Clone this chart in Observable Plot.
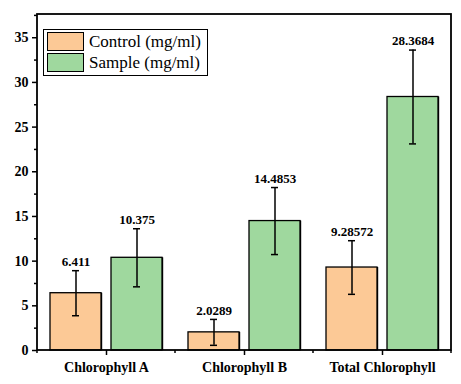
<!DOCTYPE html>
<html>
<head>
<meta charset="utf-8">
<script src="https://cdn.jsdelivr.net/npm/d3@7"></script>
<script src="https://cdn.jsdelivr.net/npm/@observablehq/plot@0.6"></script>
<style>
  html, body { margin: 0; padding: 0; background: white; }
  #wrap { position: relative; width: 461px; height: 384px; }
  .lg {
    position: absolute; left: 43px; top: 29px; width: 160px; height: 44px;
    border: 1.5px solid black; background: white; font-family: "Liberation Serif", serif;
    font-size: 17px; padding: 1px 0 0 3px; box-sizing: content-box;
  }
  .item { display: flex; align-items: center; height: 21px; }
  .sw { width: 37px; height: 19px; border: 1px solid black; margin-right: 5px; box-sizing: border-box; }
</style>
</head>
<body>
<div id="wrap"></div>
<script>
const groups = ["Chlorophyll A", "Chlorophyll B", "Total Chlorophyll"];
const series = ["Control (mg/ml)", "Sample (mg/ml)"];
const colors = ["#FCC996", "#9FD89E"];
const controlValues = [6.411, 2.0289, 9.28572];
const sampleValues = [10.375, 14.4853, 28.3684];
const controlErrors = [2.52, 1.45, 3.0];
const sampleErrors = [3.25, 3.75, 5.25];
const controlLabels = ["6.411", "2.0289", "9.28572"];
const sampleLabels = ["10.375", "14.4853", "28.3684"];
const yTicks = [0, 5, 10, 15, 20, 25, 30, 35];
const yMinorTicks = [2.5, 7.5, 12.5, 17.5, 22.5, 27.5, 32.5, 37.5];

const data = [];
groups.forEach((g, i) => {
  data.push({group: g, series: series[0], value: controlValues[i], err: controlErrors[i], label: controlLabels[i]});
  data.push({group: g, series: series[1], value: sampleValues[i], err: sampleErrors[i], label: sampleLabels[i]});
});

const W = 461, H = 384, ML = 37, MR = 10, MT = 14, MB = 34;
const font = "Liberation Serif";

const plot = Plot.plot({
  width: W, height: H,
  marginLeft: ML, marginRight: MR, marginTop: MT, marginBottom: MB,
  style: {fontFamily: font, background: "white", color: "black"},
  fx: {domain: groups, padding: 0, label: null, axis: null},
  x: {domain: series, paddingInner: 0.164, paddingOuter: 0.213, axis: null},
  y: {domain: [0, 37.6], label: null},
  color: {domain: series, range: colors},
  marks: [
    Plot.barY(data, {fx: "group", x: "series", y: "value", fill: "black", dx: 1.2}),
    Plot.barY(data, {fx: "group", x: "series", y: "value", fill: "series", stroke: "black", strokeWidth: 1.3}),
    Plot.ruleX(data, {fx: "group", x: "series", y1: d => d.value - d.err, y2: d => d.value + d.err, stroke: "black", strokeWidth: 1.5}),
    Plot.tickY(data, {fx: "group", x: "series", y: d => d.value - d.err, insetLeft: 22, insetRight: 22, stroke: "black", strokeWidth: 1.5}),
    Plot.tickY(data, {fx: "group", x: "series", y: d => d.value + d.err, insetLeft: 22, insetRight: 22, stroke: "black", strokeWidth: 1.5}),
    Plot.text(data, {fx: "group", x: "series", y: d => d.value + d.err, text: "label", dy: -9, fontWeight: "bold", fontSize: 13, fontFamily: font, fill: "black"}),
    Plot.axisY({ticks: yTicks, tickSize: 5, tickPadding: 4, fontSize: 14, fontWeight: "bold", fontFamily: font, label: null, strokeWidth: 1.5}),
    Plot.axisY({ticks: yMinorTicks.filter(v => v <= 37.6), tickSize: 3, tickFormat: () => "", label: null, strokeWidth: 1.5}),
    Plot.axisFx({anchor: "bottom", tickSize: 5, tickPadding: 7, fontSize: 14, fontWeight: "bold", fontFamily: font, label: null, strokeWidth: 1.5})
  ]
});

const wrap = document.getElementById("wrap");
wrap.appendChild(plot);

// frame and minor x ticks at group boundaries using the fx scale
const svg = d3.select(plot.tagName.toLowerCase() === "svg" ? plot : plot.querySelector("svg"));
const fx = plot.scale("fx");
const band = d3.scaleBand().domain(fx.domain).range(fx.range).padding(0);
const bounds = fx.domain.map(g => band(g)).concat([band.range()[1]]);
const y0 = H - MB;
svg.append("g").selectAll("line").data(bounds).join("line")
  .attr("x1", d => d).attr("x2", d => d)
  .attr("y1", y0).attr("y2", y0 + 3)
  .attr("stroke", "black").attr("stroke-width", 1.5);
svg.append("rect")
  .attr("x", band.range()[0]).attr("y", MT)
  .attr("width", band.range()[1] - band.range()[0]).attr("height", y0 - MT)
  .attr("fill", "none").attr("stroke", "black").attr("stroke-width", 1.8);

// legend
const legend = document.createElement("div");
legend.className = "lg";
series.forEach((s, i) => {
  const it = document.createElement("div");
  it.className = "item";
  const sw = document.createElement("div");
  sw.className = "sw";
  sw.style.background = colors[i];
  const t = document.createElement("span");
  t.textContent = s;
  t.style.fontFamily = "Liberation Serif";
  it.appendChild(sw); it.appendChild(t);
  legend.appendChild(it);
});
wrap.appendChild(legend);
</script>
</body>
</html>
